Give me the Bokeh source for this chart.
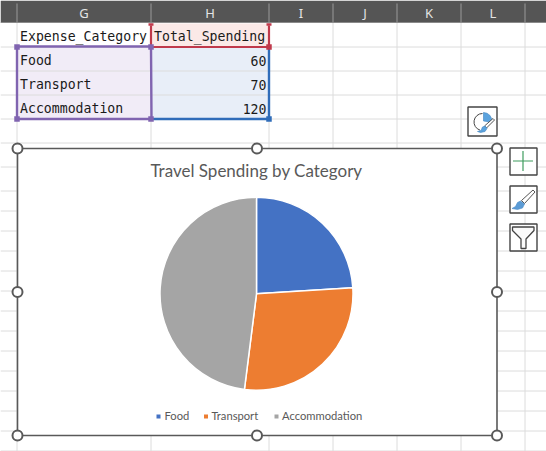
import math
from bokeh.plotting import figure
from bokeh.embed import file_html
from bokeh.resources import INLINE
from bokeh.core.properties import value
from bokeh.models import Range1d

W, H = 546, 451

# ---- data ----
column_letters = ["G", "H", "I", "J", "K", "L"]
header_cells = ["Expense_Category", "Total_Spending"]
categories = ["Food", "Transport", "Accommodation"]
spending = [60, 70, 120]
slice_colors = ["#4472C4", "#ED7D31", "#A5A5A5"]
chart_title = "Travel Spending by Category"

# ---- sheet layout (screen pixels, y measured from top) ----
col_edges = [16.5, 150.5, 268.5, 332.5, 396.5, 460.5, 524.5]
row_edges = [46.5, 70.5, 94.5, 118.5, 142.5, 166.5, 190.5, 210.5, 230.5, 250.5,
             270.5, 290.5, 310.5, 330.5, 350.5, 370.5, 390.5, 410.5, 430.5, 450.5]
row_centers = [60, 84, 108]
GRID = "#DCDCDC"
INK = "#595959"


def Y(v):
    return H - v


p = figure(width=W, height=H, output_backend="svg", toolbar_location=None,
           x_range=Range1d(0, W), y_range=Range1d(0, H), min_border=0)
p.axis.visible = False
p.grid.visible = False
p.outline_line_color = None
p.background_fill_color = "white"
p.border_fill_color = "white"


def box(x0, y0, x1, y1, **kw):
    p.quad(left=[x0], right=[x1], top=[Y(y0)], bottom=[Y(y1)], **kw)


def poly(pts, **kw):
    p.patch([a for a, _ in pts], [Y(b) for _, b in pts], **kw)


def path(pts, **kw):
    p.line([a for a, _ in pts], [Y(b) for _, b in pts], **kw)


# cell tints
box(16.5, 46, 150.5, 118, fill_color="#F1ECF7", line_color=None)
box(150.5, 23, 268.5, 46, fill_color="#FBE9E7", line_color=None)
box(150.5, 46, 268.5, 118, fill_color="#E8EEF8", line_color=None)

# sheet grid
for y in row_edges:
    p.line([0, W], [Y(y), Y(y)], line_color=GRID, line_width=1)
for x in col_edges:
    p.line([x, x], [Y(22), Y(H)], line_color=GRID, line_width=1)

# column header band
box(0, 0, W, 22, fill_color="#555555", line_color=None)
p.line([0, W], [Y(22), Y(22)], line_color="#8A8A8A", line_width=1)
for x in col_edges:
    p.line([x, x], [Y(3), Y(22)], line_color="#9A9A9A", line_width=1)
head_x = [(col_edges[i] + col_edges[i + 1]) / 2 for i in range(6)]
p.text(head_x, [Y(12.5)] * 6, text=column_letters, text_align="center",
       text_baseline="middle", text_color="#E4E4E4", text_font_size="13px",
       text_font=value("Noto Sans"))

# range highlight borders
path([(150.5, 25), (150.5, 46.5), (268.5, 46.5), (268.5, 25)],
     line_color="#C0394B", line_width=2.2)
path([(268.5, 47), (268.5, 118.5), (152, 118.5)], line_color="#2F6CB9", line_width=2.4)
path([(16.5, 46), (150.5, 46), (151, 118.5), (16.5, 118.5), (16.5, 46)],
     line_color="#8064B0", line_width=2.4)
for cx, cy, c, w, h in [(150.5, 24, "#C0394B", 5, 2.5), (268.5, 24, "#C0394B", 5, 2.5),
                        (268.5, 46.5, "#C0394B", 5.5, 5.5), (16.5, 46.5, "#8064B0", 5.5, 5.5),
                        (150.5, 46.5, "#8064B0", 5.5, 5.5), (16.5, 118.5, "#8064B0", 5.5, 5.5),
                        (150.5, 118.5, "#8064B0", 5.5, 5.5), (268.5, 118.5, "#2F6CB9", 5.5, 5.5)]:
    box(cx - w / 2, cy - h / 2, cx + w / 2, cy + h / 2, fill_color=c, line_color=None)

# table text
MONO = value("DejaVu Sans Mono")
p.text([19.5], [Y(36)], text=[header_cells[0]], text_baseline="middle",
       text_font=MONO, text_font_size="13.2px", text_color="#1A1A1A")
p.text([153.5], [Y(36)], text=[header_cells[1]], text_baseline="middle",
       text_font=MONO, text_font_size="13.2px", text_color="#1A1A1A")
p.text([19.5] * 3, [Y(v) for v in row_centers], text=categories, text_baseline="middle",
       text_font=MONO, text_font_size="13.2px", text_color="#1A1A1A")
p.text([266] * 3, [Y(v) for v in row_centers], text=[str(v) for v in spending],
       text_align="right", text_baseline="middle",
       text_font=MONO, text_font_size="13.2px", text_color="#1A1A1A")

# chart object
CL, CT, CR, CB = 17, 148, 496.5, 435
box(CL, CT, CR, CB, fill_color="white", line_color=INK, line_width=1.6)

CARLITO = value("Lato")
p.text([256], [Y(169.5)], text=[chart_title], text_align="center", text_baseline="middle",
       text_font=CARLITO, text_font_size="17px", text_color=INK)

# pie
total = sum(spending)
starts, ends, run = [], [], 0
for v in spending:
    starts.append(math.pi / 2 - 2 * math.pi * run / total)
    run += v
    ends.append(math.pi / 2 - 2 * math.pi * run / total)
p.wedge(x=[256] * 3, y=[Y(293.3)] * 3, radius=96.5, start_angle=starts, end_angle=ends,
        direction="clock", fill_color=slice_colors, line_color="white", line_width=1.5)

# legend
leg_sq = [158, 205.5, 276]
leg_tx = [164, 211, 281.5]
for sx, c in zip(leg_sq, slice_colors):
    box(sx - 2, 414, sx + 2, 418, fill_color=c, line_color=None)
p.text(leg_tx, [Y(415)] * 3, text=categories, text_baseline="middle",
       text_font=CARLITO, text_font_size="11.2px", text_color=INK)

# selection handles
hx = [CL, 256.5, CR, CL, CR, CL, 256.5, CR]
hy = [CT, CT, CT, 291.5, 291.5, CB, CB, CB]
p.scatter(hx, [Y(v) for v in hy], size=10, fill_color="white", line_color=INK, line_width=2)

# side buttons
for x0, y0, x1, y1 in [(467.5, 106.5, 496.5, 135.5), (509.5, 147.5, 536.5, 174.5),
                       (509.5, 185.5, 536.5, 212.5), (509.5, 223.5, 536.5, 250.5)]:
    box(x0, y0, x1, y1, fill_color="white", line_color="#444444", line_width=1.4)

# plus
p.line([512.5, 532.5], [Y(160.5)] * 2, line_color="#3E9C5E", line_width=1.2)
p.line([522.5, 522.5], [Y(150.5), Y(170.5)], line_color="#3E9C5E", line_width=1.2)

# brush
poly([(532.5, 189.5), (534.5, 191.5), (524, 203), (521, 200)],
     fill_color="white", line_color="#555555", line_width=1)
poly([(511.5, 208), (515, 206), (517, 202), (520, 200.5), (524, 203.5), (522, 207.5),
      (517, 209)], fill_color="#5B9BD5", line_color="#4A8BC9", line_width=0.6)

# funnel
poly([(512, 226.5), (533.5, 226.5), (533.5, 230), (525.5, 238.5), (525.5, 248),
      (520.5, 248), (520.5, 238.5), (512, 230)],
     fill_color="#FAFAFA", line_color="#444444", line_width=1.3)

# chart-styles icon
p.arc(x=[482], y=[Y(121.5)], radius=8.5, start_angle=[1.57], end_angle=[-1.57 - 0.3],
      direction="anticlock", line_color="#444444", line_width=1)
p.wedge(x=[483], y=[Y(120.5)], radius=8.5, start_angle=[math.pi / 2], end_angle=[-0.15],
        direction="clock", fill_color="#5BA3DE", line_color="#3F83BF", line_width=0.6)
poly([(492.5, 118), (494, 119.5), (486, 127.5), (484, 125.5)],
     fill_color="white", line_color="#555555", line_width=1)
poly([(477, 131), (480.5, 130), (482, 126.5), (484.5, 125.5), (486.5, 128), (484.5, 131),
      (480, 132)], fill_color="#5BA3DE", line_color="#3F83BF", line_width=0.6)

open("out.html", "w").write(file_html(p, INLINE))
